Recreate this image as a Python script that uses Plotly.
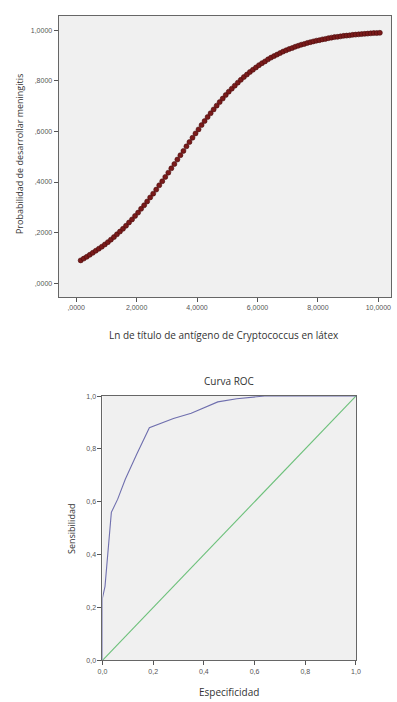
import plotly.graph_objects as go

# ---- Data: logistic probability curve ----
ln_titulo = [0.15, 0.25, 0.35, 0.45, 0.55, 0.65, 0.75, 0.85, 0.95, 1.05,
             1.15, 1.25, 1.35, 1.45, 1.55, 1.65, 1.75, 1.85, 1.95, 2.05,
             2.15, 2.25, 2.35, 2.45, 2.55, 2.65, 2.75, 2.85, 2.95, 3.05,
             3.15, 3.25, 3.35, 3.45, 3.55, 3.65, 3.75, 3.85, 3.95, 4.05,
             4.15, 4.25, 4.35, 4.45, 4.55, 4.65, 4.75, 4.85, 4.95, 5.05,
             5.15, 5.25, 5.35, 5.45, 5.55, 5.65, 5.75, 5.85, 5.95, 6.05,
             6.15, 6.25, 6.35, 6.45, 6.55, 6.65, 6.75, 6.85, 6.95, 7.05,
             7.15, 7.25, 7.35, 7.45, 7.55, 7.65, 7.75, 7.85, 7.95, 8.05,
             8.15, 8.25, 8.35, 8.45, 8.55, 8.65, 8.75, 8.85, 8.95, 9.05,
             9.15, 9.25, 9.35, 9.45, 9.55, 9.65, 9.75, 9.85, 9.95, 10.05]
probabilidad = [0.090, 0.097, 0.104, 0.112, 0.120, 0.128, 0.136, 0.144, 0.153, 0.162,
                0.172, 0.182, 0.193, 0.204, 0.215, 0.227, 0.240, 0.252, 0.266, 0.279,
                0.294, 0.308, 0.323, 0.339, 0.354, 0.370, 0.387, 0.403, 0.420, 0.437,
                0.454, 0.471, 0.489, 0.506, 0.523, 0.541, 0.558, 0.575, 0.592, 0.608,
                0.625, 0.641, 0.657, 0.672, 0.687, 0.702, 0.716, 0.730, 0.744, 0.757,
                0.769, 0.781, 0.793, 0.804, 0.815, 0.825, 0.835, 0.844, 0.853, 0.862,
                0.870, 0.877, 0.885, 0.892, 0.898, 0.904, 0.910, 0.916, 0.921, 0.926,
                0.930, 0.935, 0.939, 0.943, 0.946, 0.950, 0.953, 0.956, 0.959, 0.961,
                0.964, 0.966, 0.969, 0.971, 0.973, 0.974, 0.976, 0.978, 0.979, 0.980,
                0.982, 0.983, 0.984, 0.985, 0.986, 0.987, 0.988, 0.989, 0.989, 0.990]
top_xticks = [0, 2, 4, 6, 8, 10]
top_xticklabels = [",0000", "2,0000", "4,0000", "6,0000", "8,0000", "10,0000"]
top_yticks = [0, 0.2, 0.4, 0.6, 0.8, 1.0]
top_yticklabels = [",0000", ",2000", ",4000", ",6000", ",8000", "1,0000"]

# ---- Data: ROC curve ----
roc_x = [0.0, 0.0, 0.01, 0.02, 0.035, 0.06, 0.09, 0.135, 0.185, 0.28, 0.35, 0.455, 0.53, 0.64, 1.0]
roc_y = [0.0, 0.236, 0.28, 0.40, 0.56, 0.61, 0.685, 0.78, 0.88, 0.915, 0.935, 0.978, 0.99, 1.0, 1.0]
ref_x = [0.0, 1.0]
ref_y = [0.0, 1.0]
roc_ticks = [0, 0.2, 0.4, 0.6, 0.8, 1.0]
roc_ticklabels = ["0,0", "0,2", "0,4", "0,6", "0,8", "1,0"]

W, H = 397, 702
fig = go.Figure()

fig.add_trace(go.Scatter(
    x=ln_titulo, y=probabilidad, mode="markers",
    marker=dict(size=5, color="#7a1a1a", line=dict(width=0.6, color="#4a0c0c")),
    xaxis="x", yaxis="y", showlegend=False, hoverinfo="skip"))

fig.add_trace(go.Scatter(
    x=ref_x, y=ref_y, mode="lines", line=dict(color="#6cc07a", width=1.1),
    xaxis="x2", yaxis="y2", showlegend=False, hoverinfo="skip"))
fig.add_trace(go.Scatter(
    x=roc_x, y=roc_y, mode="lines", line=dict(color="#6f6fae", width=1.1),
    xaxis="x2", yaxis="y2", showlegend=False, hoverinfo="skip"))

tickfont = dict(family="Liberation Sans, Arial", size=7, color="#555555")
axis_common = dict(showgrid=False, zeroline=False, showline=True, linecolor="#666",
                   linewidth=1, mirror=True, ticks="outside", ticklen=4, tickcolor="#555",
                   tickfont=tickfont)

def px_x(p):
    return p / W

def px_y(p):
    return 1 - p / H

fig.update_layout(
    width=W, height=H, autosize=False,
    margin=dict(l=0, r=0, t=0, b=0),
    paper_bgcolor="white", plot_bgcolor="#f0f0f0",
    xaxis=dict(domain=[px_x(55), px_x(396)], range=[-0.58, 10.42], anchor="y",
               tickvals=top_xticks, ticktext=top_xticklabels, **axis_common),
    yaxis=dict(domain=[px_y(296), px_y(12)], range=[-0.055, 1.057], anchor="x",
               tickvals=top_yticks, ticktext=top_yticklabels, **axis_common),
    xaxis2=dict(domain=[px_x(100), px_x(360)], range=[0, 1], anchor="y2",
                tickvals=roc_ticks, ticktext=roc_ticklabels, **axis_common),
    yaxis2=dict(domain=[px_y(663), px_y(396)], range=[0, 1], anchor="x2",
                tickvals=roc_ticks, ticktext=roc_ticklabels, **axis_common),
)

titlefont = dict(family="Open Sans, Liberation Sans", size=10, color="#333")
fig.update_layout(annotations=[
    dict(text="Ln de título de antígeno de Cryptococcus en látex", xref="paper", yref="paper",
         x=px_x(225), y=px_y(334), showarrow=False, font=titlefont,
         xanchor="center", yanchor="middle"),
    dict(text="Probabilidad de desarrollar meningitis", xref="paper", yref="paper",
         x=px_x(15), y=px_y(152), showarrow=False, font=dict(titlefont, size=9),
         textangle=-90, xanchor="center", yanchor="middle"),
    dict(text="Curva ROC", xref="paper", yref="paper",
         x=px_x(230), y=px_y(381), showarrow=False, font=dict(titlefont, size=10),
         xanchor="center", yanchor="middle"),
    dict(text="Especificidad", xref="paper", yref="paper",
         x=px_x(230), y=px_y(695), showarrow=False, font=titlefont,
         xanchor="center", yanchor="middle"),
    dict(text="Sensibilidad", xref="paper", yref="paper",
         x=px_x(68), y=px_y(530), showarrow=False, font=dict(titlefont, size=9),
         textangle=-90, xanchor="center", yanchor="middle"),
])

fig.write_html("out.html", config={"displayModeBar": False},
               post_script="document.body.style.margin='0';document.body.style.overflow='hidden';")
